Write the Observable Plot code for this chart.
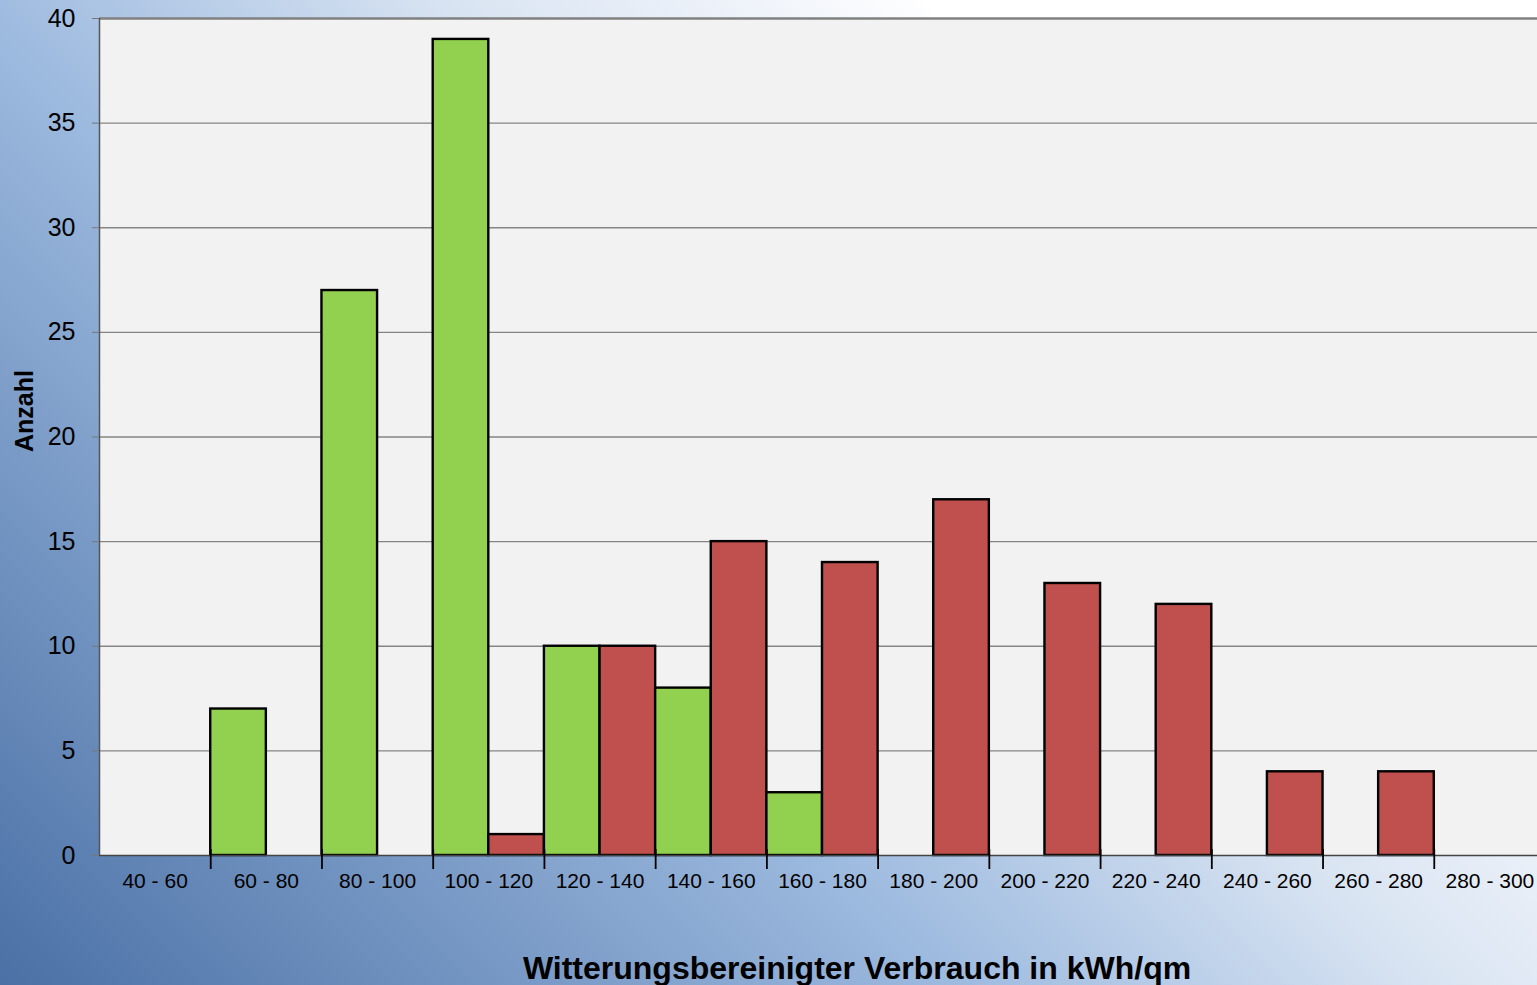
<!DOCTYPE html>
<html><head><meta charset="utf-8">
<script src="https://cdn.jsdelivr.net/npm/d3@7"></script>
<script src="https://cdn.jsdelivr.net/npm/@observablehq/plot@0.6"></script>
<style>
html,body{margin:0;padding:0;width:1537px;height:985px;overflow:hidden;}
body{position:relative;background:linear-gradient(45deg,#4a70a5 0%,#9dbadf 38%,#d9e4f2 57%,#ecf1f9 67%,#ffffff 76%);font-family:"Liberation Sans",Arial,sans-serif;}
#chart{position:absolute;left:0;top:0;}
#title{position:absolute;left:0;top:953px;width:1537px;box-sizing:border-box;padding-left:177px;text-align:center;font-weight:bold;font-size:32px;line-height:31px;color:#000;white-space:nowrap;}
</style></head><body>
<div id="chart"></div>
<div id="title">Witterungsbereinigter Verbrauch in kWh/qm</div>
<script>
const categories = ["40 - 60","60 - 80","80 - 100","100 - 120","120 - 140","140 - 160","160 - 180","180 - 200","200 - 220","220 - 240","240 - 260","260 - 280","280 - 300"];
const gruen = [0,7,27,39,10,8,3,0,0,0,0,0,0];
const rot   = [0,0,0,1,10,15,14,17,13,12,4,4,0];
const yTicks = [0,5,10,15,20,25,30,35,40];
const seriesNames = ["grün","rot"];
const seriesColors = ["#92d050","#c0504d"];
const yLabel = "Anzahl";

const rows = [];
categories.forEach((c, i) => {
  rows.push({cat: c, idx: i, part: 0, series: seriesNames[0], value: gruen[i]});
  rows.push({cat: c, idx: i, part: 1, series: seriesNames[1], value: rot[i]});
});
const bars = rows.filter(d => d.value > 0);
const n = categories.length;
const boundaries = d3.range(1, n + 1);
const centers = d3.range(n).map(i => i + 0.5);

const chart = Plot.plot({
  width: 1537,
  height: 985,
  marginLeft: 99,
  marginTop: 18,
  marginBottom: 130,
  marginRight: 0,
  style: {background: "transparent", overflow: "hidden", fontFamily: "'Liberation Sans', Arial, sans-serif", color: "#000"},
  x: {type: "linear", domain: [0, n], range: [99, 1545]},
  y: {domain: [0, 40], range: [855, 18]},
  color: {domain: seriesNames, range: seriesColors},
  marks: [
    Plot.frame({fill: "#f2f2f2", stroke: null}),
    Plot.ruleY(yTicks.filter(t => t > 0 && t < 40), {stroke: "#858585", strokeWidth: 1.3}),
    Plot.ruleY([40], {stroke: "#808080", strokeWidth: 2.5}),
    Plot.rectY(bars, {x1: d => d.idx + d.part * 0.5, x2: d => d.idx + (d.part + 1) * 0.5, y1: 0, y2: "value", fill: "series", stroke: "#000", strokeWidth: 2.4}),
    Plot.ruleY([0], {stroke: "#444", strokeWidth: 1.5}),
    Plot.ruleX([0], {stroke: "#555", strokeWidth: 1.5}),
    Plot.axisY({ticks: yTicks, tickSize: 7, tickPadding: 17, fontSize: 25, stroke: "#777", label: null, tickFormat: d => String(d)}),
    Plot.axisX({ticks: boundaries, tickSize: 20, tickFormat: () => "", stroke: "#000", strokeWidth: 1.8, dy: -6, label: null}),
    Plot.axisX({ticks: centers, tickSize: 0, tickPadding: 18, fontSize: 21, tickFormat: d => categories[Math.floor(d)], label: null}),
    Plot.text([yLabel], {frameAnchor: "left", rotate: -90, dx: -75, dy: 15, fontSize: 25, fontWeight: "bold", fill: "#000"})
  ]
});
document.getElementById("chart").appendChild(chart);
</script>
</body></html>
